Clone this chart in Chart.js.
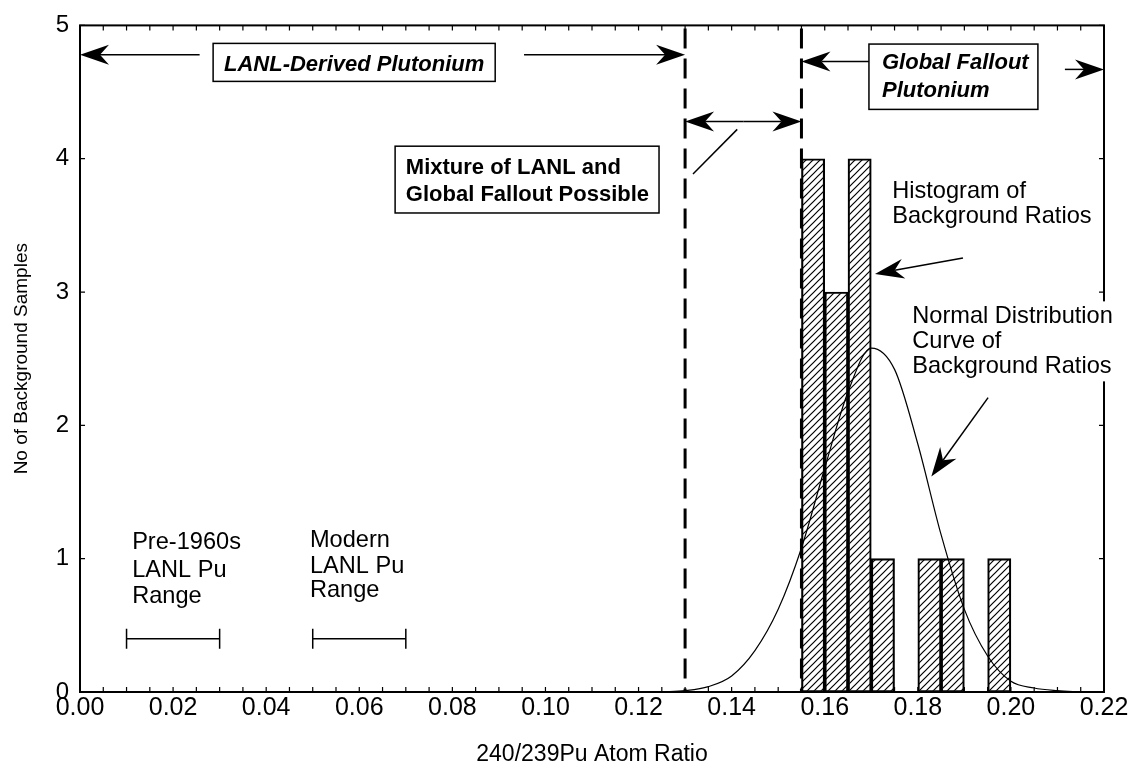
<!DOCTYPE html>
<html>
<head>
<meta charset="utf-8">
<script src="https://cdn.jsdelivr.net/npm/chart.js@4.4.1/dist/chart.umd.min.js"></script>
<style>
  html, body { margin: 0; padding: 0; background: #fff; }
  #wrap { width: 1130px; height: 772px; }
</style>
</head>
<body>
<div id="wrap"><canvas id="grafica" width="1130" height="772"></canvas></div>
<script>
// histograma de razones de fondo: inicio de cada intervalo y numero de muestras
const binStart = [0.155, 0.160, 0.165, 0.170, 0.175, 0.180, 0.185, 0.190, 0.195];
const binCount = [4, 3, 4, 1, 0, 1, 1, 0, 1];
const binWidth = 0.005;

// curva de distribucion normal
const curveX = [0.125, 0.130, 0.135, 0.140, 0.145, 0.150, 0.155, 0.160, 0.165, 0.170,
                0.175, 0.180, 0.185, 0.190, 0.195, 0.200, 0.205, 0.210, 0.215];
const curveY = [0.00, 0.01, 0.04, 0.12, 0.31, 0.62, 1.08, 1.68, 2.25, 2.58,
                2.42, 1.86, 1.18, 0.62, 0.27, 0.08, 0.03, 0.01, 0.00];

// rangos de Pu de LANL
const rangeLabels = [["Pre-1960s", "LANL Pu", "Range"], ["Modern", "LANL Pu", "Range"]];
const rangeFrom = [0.01, 0.05];
const rangeTo = [0.03, 0.07];
const rangeLevel = 0.4;

// limites entre regiones
const limitLANL = 0.13;
const limitGlobal = 0.155;

// etiquetas de los ejes
const xTicks = [0, 0.02, 0.04, 0.06, 0.08, 0.10, 0.12, 0.14, 0.16, 0.18, 0.20, 0.22];
const yTicks = [0, 1, 2, 3, 4, 5];

const FONT = '"Liberation Sans", Arial, sans-serif';

// patron rayado para las barras
function hatch() {
    const c = document.createElement('canvas');
    c.width = 7; c.height = 7;
    const g = c.getContext('2d');
    g.strokeStyle = '#000';
    g.lineWidth = 1.2;
    g.beginPath();
    g.moveTo(-1, 8); g.lineTo(8, -1);
    g.moveTo(-1, 1); g.lineTo(1, -1);
    g.moveTo(6, 8); g.lineTo(8, 6);
    g.stroke();
    return g.createPattern(c, 'repeat');
}

// flecha con punta rellena
function arrow(ctx, x1, y1, x2, y2) {
    const ang = Math.atan2(y2 - y1, x2 - x1);
    const L = 29, W = 10, N = 20;
    ctx.beginPath();
    ctx.moveTo(x1, y1);
    ctx.lineTo(x2 - Math.cos(ang) * N, y2 - Math.sin(ang) * N);
    ctx.stroke();
    ctx.save();
    ctx.translate(x2, y2);
    ctx.rotate(ang);
    ctx.beginPath();
    ctx.moveTo(0, 0);
    ctx.lineTo(-L, -W);
    ctx.lineTo(-N, 0);
    ctx.lineTo(-L, W);
    ctx.closePath();
    ctx.fill();
    ctx.restore();
}

const anotaciones = {
    id: 'anotaciones',
    afterDatasetsDraw(chart) {
        const ctx = chart.ctx;
        const xs = chart.scales.x, ys = chart.scales.y;
        const px = v => xs.getPixelForValue(v);
        const py = v => ys.getPixelForValue(v);
        const a = chart.chartArea;
        ctx.save();
        ctx.strokeStyle = '#000';
        ctx.fillStyle = '#000';

        // marco
        ctx.lineWidth = 2;
        ctx.strokeRect(a.left, a.top, a.right - a.left, a.bottom - a.top);

        // marcas menores en x
        ctx.lineWidth = 1.2;
        ctx.beginPath();
        for (let i = 0; i <= 44; i++) {
            const x = px(i * 0.005);
            ctx.moveTo(x, a.bottom); ctx.lineTo(x, a.bottom - 5);
            ctx.moveTo(x, a.top); ctx.lineTo(x, a.top + 5);
        }
        yTicks.forEach(v => {
            ctx.moveTo(a.left, py(v)); ctx.lineTo(a.left + 5, py(v));
            ctx.moveTo(a.right, py(v)); ctx.lineTo(a.right - 5, py(v));
        });
        ctx.stroke();

        // lineas discontinuas de limites
        ctx.lineWidth = 3;
        ctx.setLineDash([20, 10]);
        [limitLANL, limitGlobal].forEach(v => {
            ctx.beginPath();
            ctx.moveTo(px(v), a.top + 3);
            ctx.lineTo(px(v), a.bottom);
            ctx.stroke();
        });
        ctx.setLineDash([]);

        // flechas superiores
        ctx.lineWidth = 1.5;
        arrow(ctx, px(0.0257), py(4.78), px(0), py(4.78));
        arrow(ctx, px(0.0954), py(4.78), px(limitLANL), py(4.78));
        arrow(ctx, px(0.1695), py(4.73), px(limitGlobal), py(4.73));
        arrow(ctx, px(0.2116), py(4.67), px(0.22), py(4.67));
        // flecha doble de mezcla
        const ym = py(4.28);
        const xm = (px(limitLANL) + px(limitGlobal)) / 2;
        arrow(ctx, xm, ym, px(limitLANL), ym);
        arrow(ctx, xm, ym, px(limitGlobal), ym);
        ctx.beginPath();
        ctx.moveTo(px(0.1317), py(3.885));
        ctx.lineTo(px(0.1412), py(4.22));
        ctx.stroke();

        // cajas de texto
        function caja(x1, y1, x2, y2, lines, font, lx, baselines, center) {
            const l = px(x1), t = py(y1), r = px(x2), b = py(y2);
            ctx.fillStyle = '#fff';
            ctx.fillRect(l, t, r - l, b - t);
            ctx.lineWidth = 1.5;
            ctx.strokeRect(l, t, r - l, b - t);
            ctx.fillStyle = '#000';
            ctx.font = font;
            ctx.textBaseline = 'alphabetic';
            ctx.textAlign = center ? 'center' : 'left';
            lines.forEach((s, i) => {
                ctx.fillText(s, center ? (l + r) / 2 : px(lx), py(baselines[i]));
            });
        }
        caja(0.0286, 4.865, 0.0892, 4.58, ['LANL-Derived Plutonium'],
             'bold italic 22px ' + FONT, 0, [4.655], true);
        caja(0.1695, 4.86, 0.2058, 4.37, ['Global Fallout', 'Plutonium'],
             'bold italic 22px ' + FONT, 0.1723, [4.67, 4.46], false);
        caja(0.0677, 4.094, 0.1244, 3.593, ['Mixture of LANL and', 'Global Fallout Possible'],
             'bold 22px ' + FONT, 0.0700, [3.886, 3.683], false);

        // textos libres
        ctx.font = '23.6px ' + FONT;
        ctx.textAlign = 'left';
        ctx.fillText('Histogram of', px(0.1745), py(3.705));
        ctx.fillText('Background Ratios', px(0.1745), py(3.518));
        ctx.lineWidth = 1.5;
        arrow(ctx, px(0.1897), py(3.256), px(0.1708), py(3.136));

        const nd = ['Normal Distribution', 'Curve of', 'Background Ratios'];
        const ndY = [2.77, 2.58, 2.39];
        ctx.fillStyle = '#fff';
        ctx.fillRect(px(0.1788) - 2, py(2.93), 210, py(2.33) - py(2.93));
        ctx.fillStyle = '#000';
        nd.forEach((s, i) => ctx.fillText(s, px(0.1788), py(ndY[i])));
        arrow(ctx, px(0.1951), py(2.208), px(0.1829), py(1.617));

        // rangos de LANL
        const rangeText = [[0.0112, [1.07, 0.86, 0.67]], [0.0494, [1.085, 0.89, 0.71]]];
        ctx.lineWidth = 1.5;
        rangeFrom.forEach((f, i) => {
            const y = py(rangeLevel);
            ctx.beginPath();
            ctx.moveTo(px(f), y); ctx.lineTo(px(rangeTo[i]), y);
            ctx.moveTo(px(f), y - 10); ctx.lineTo(px(f), y + 10);
            ctx.moveTo(px(rangeTo[i]), y - 10); ctx.lineTo(px(rangeTo[i]), y + 10);
            ctx.stroke();
            rangeLabels[i].forEach((s, j) => {
                ctx.fillText(s, px(rangeText[i][0]), py(rangeText[i][1][j]));
            });
        });
        ctx.restore();
    }
};

const ctx = document.getElementById('grafica').getContext('2d');
const grafica = new Chart(ctx, {
    type: 'bar',
    data: {
        datasets: [{
            type: 'line',
            label: 'Normal Distribution Curve',
            data: curveX.map((x, i) => ({ x: x, y: curveY[i] })),
            borderColor: '#000',
            borderWidth: 1.2,
            pointRadius: 0,
            cubicInterpolationMode: 'monotone',
            fill: false,
            order: 0
        }, {
            type: 'bar',
            label: 'Histogram of Background Ratios',
            data: binStart.map((b, i) => ({ x: b + binWidth / 2, y: binCount[i] })).filter(d => d.y > 0),
            backgroundColor: hatch(),
            borderColor: '#000',
            borderWidth: 1.5,
            borderSkipped: false,
            barPercentage: 1,
            categoryPercentage: 1,
            grouped: false,
            order: 1
        }]
    },
    options: {
        responsive: false,
        animation: false,
        devicePixelRatio: 1,
        layout: { padding: { top: 24, right: 26, left: 0, bottom: 0 } },
        plugins: { legend: { display: false }, tooltip: { enabled: false } },
        scales: {
            x: {
                type: 'linear',
                min: 0, max: 0.22,
                offset: false,
                grid: { display: false, drawTicks: false },
                border: { display: false },
                afterBuildTicks: s => { s.ticks = xTicks.map(v => ({ value: v })); },
                afterFit: s => { s.height = 80; },
                ticks: {
                    autoSkip: false, maxRotation: 0, padding: 1,
                    color: '#000', font: { family: FONT, size: 25 },
                    callback: v => v.toFixed(2)
                },
                title: {
                    display: true, text: '240/239Pu Atom Ratio', color: '#000',
                    font: { family: FONT, size: 23 }, padding: { top: 0, bottom: 4 }
                }
            },
            y: {
                min: 0, max: 5,
                grid: { display: false, drawTicks: false },
                border: { display: false },
                afterBuildTicks: s => { s.ticks = yTicks.map(v => ({ value: v })); },
                afterFit: s => { s.width = 80; },
                ticks: {
                    padding: 11, color: '#000', font: { family: FONT, size: 24 },
                    callback: v => String(v)
                },
                title: {
                    display: true, text: 'No of Background Samples', color: '#000',
                    font: { family: FONT, size: 19 }, padding: { top: 10, bottom: 0 }
                }
            }
        }
    },
    plugins: [anotaciones]
});
</script>
</body>
</html>
